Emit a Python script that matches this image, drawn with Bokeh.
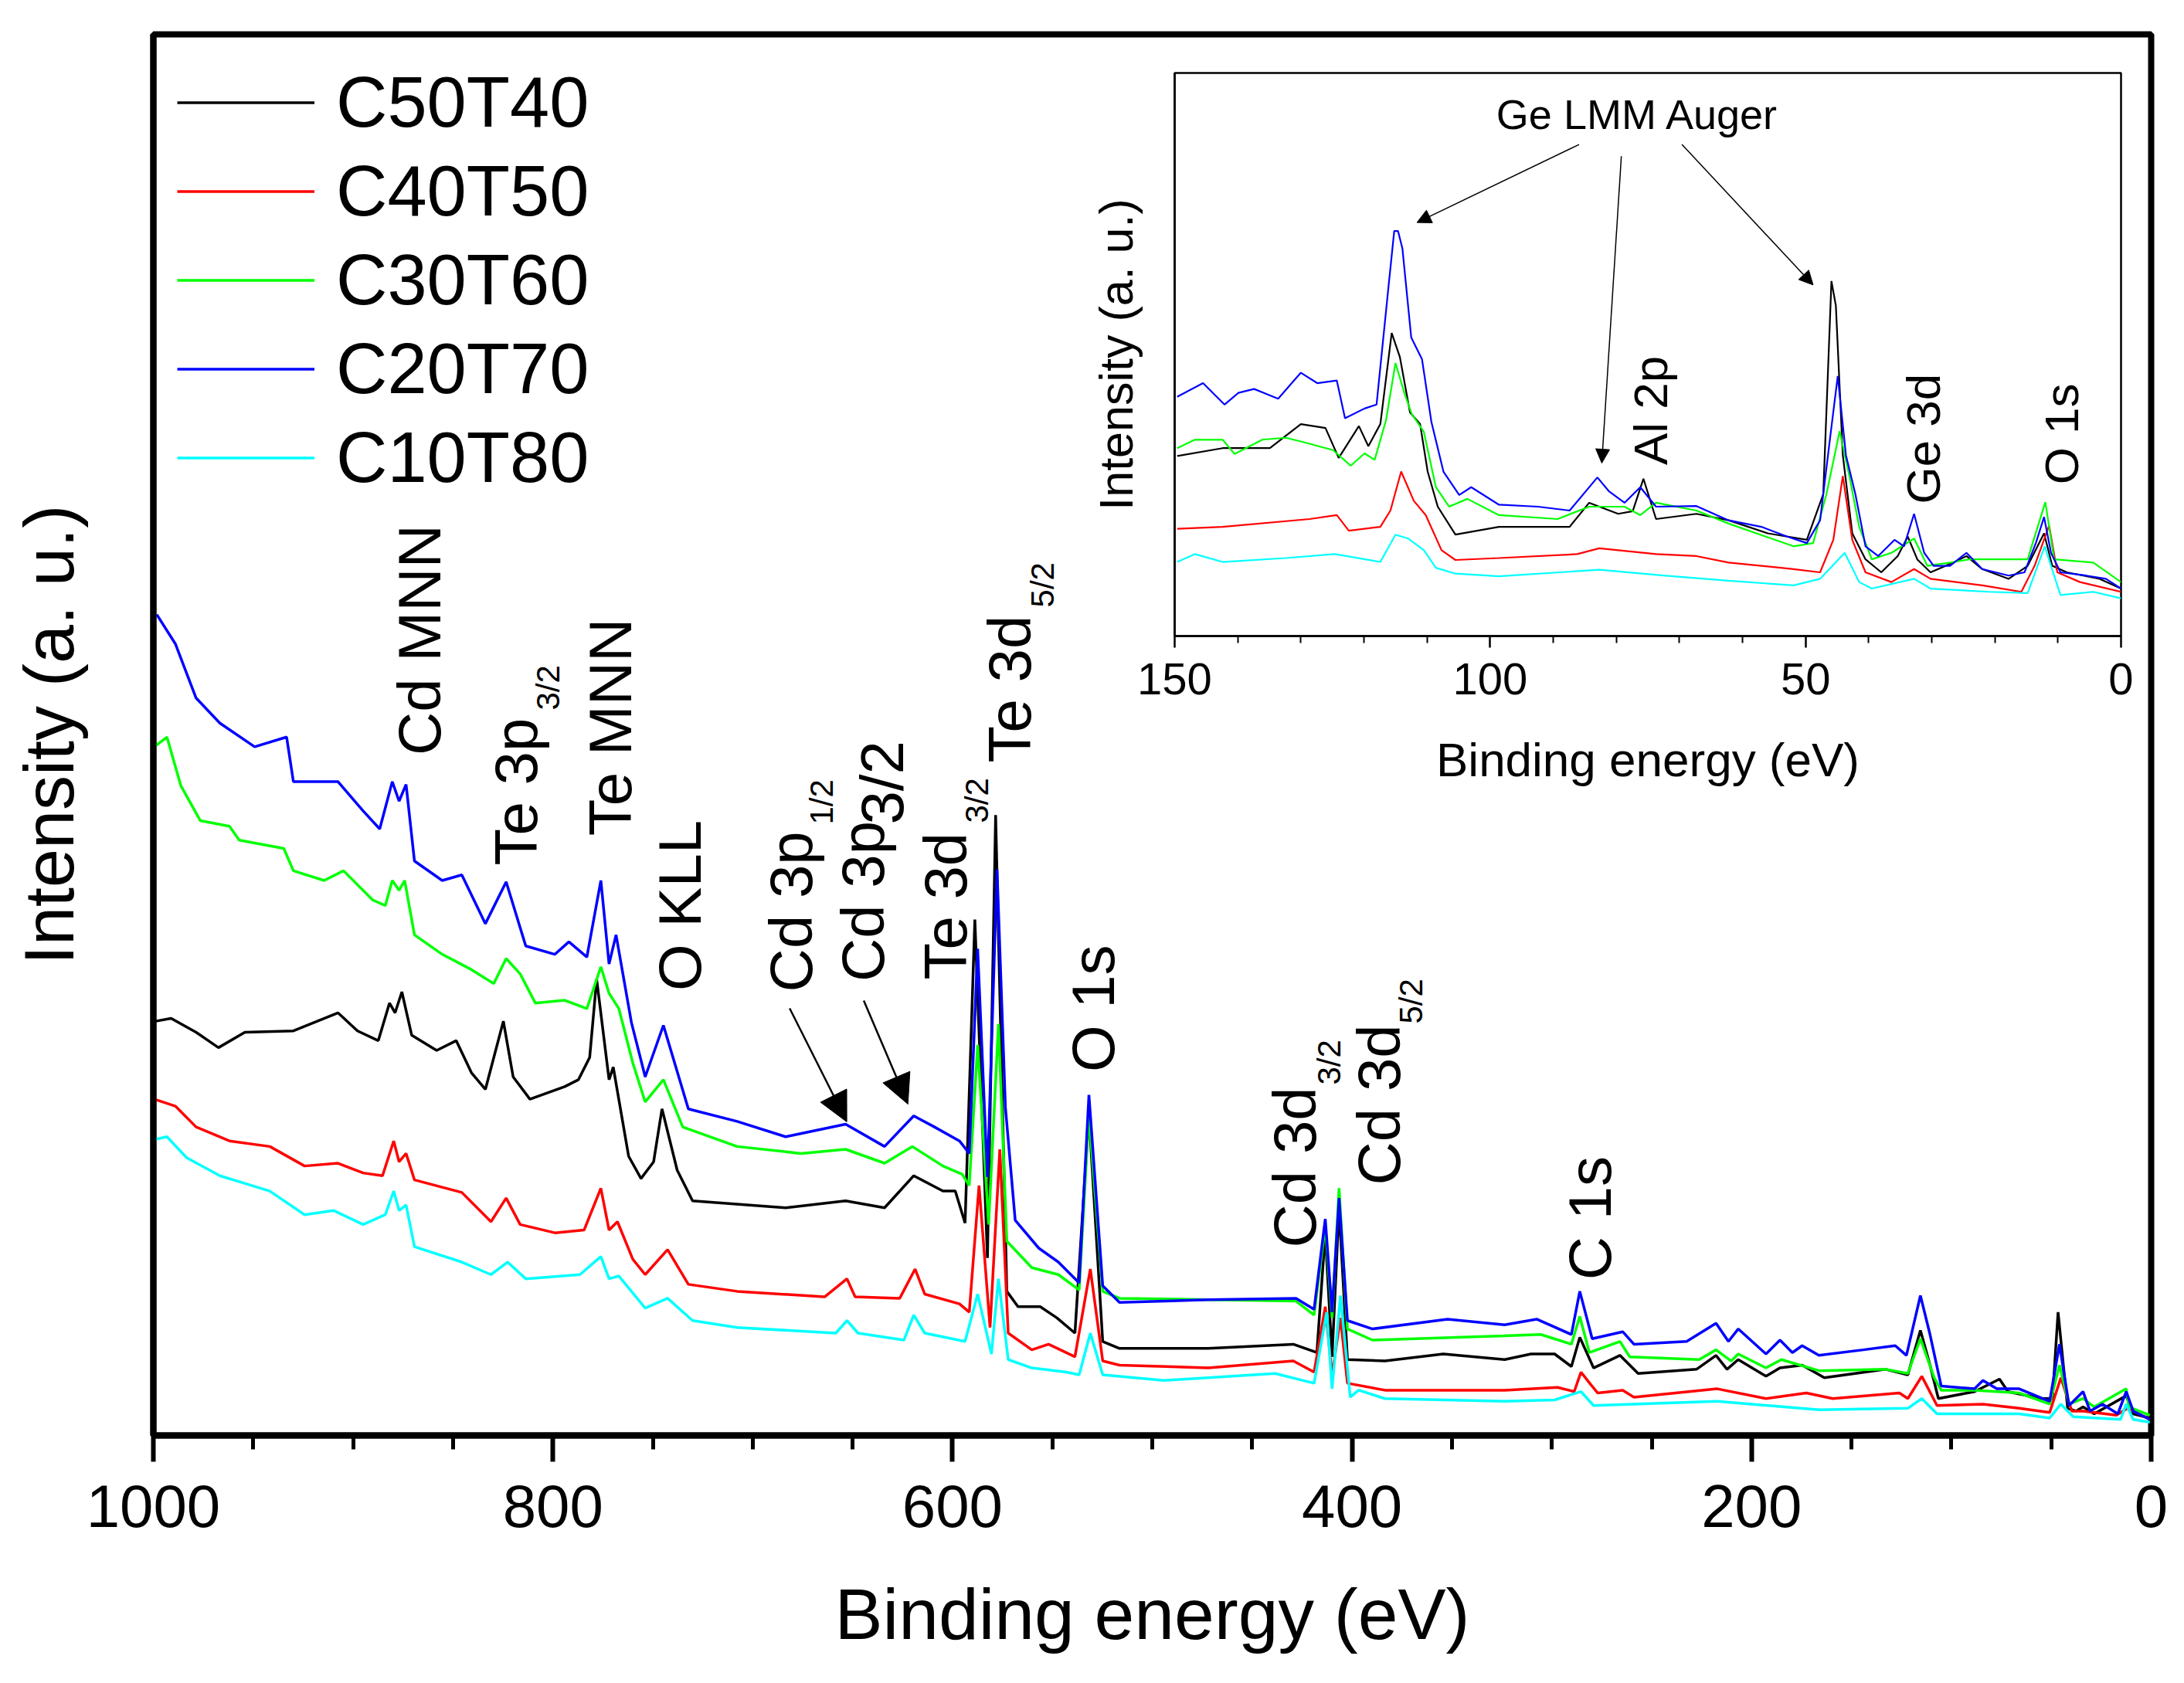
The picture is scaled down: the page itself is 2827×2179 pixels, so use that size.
import math
from bokeh.plotting import figure
from bokeh.models import (Range1d, FixedTicker, Legend, LegendItem, ColumnDataSource,
                          Arrow, NormalHead)
from bokeh.layouts import column
from bokeh.core.properties import value
from bokeh.embed import file_html
from bokeh.resources import INLINE

FONT = "Liberation Sans"

# ---------------- data: survey spectra (binding energy eV, intensity a.u.) ----------------
series_names = ["C50T40", "C40T50", "C30T60", "C20T70", "C10T80"]
series_colors = ["#000000", "#FF0000", "#00FF00", "#0000FF", "#00FFFF"]

main_c50t40 = [(998.8, 296), (991.1, 298), (978.6, 288), (967.4, 277), (954.2, 288), (929.9, 289),
               (907.6, 302), (897.8, 289), (887.4, 282), (881.8, 309), (879.0, 302), (875.6, 317),
               (870.7, 286), (858.2, 275), (848.4, 282), (840.8, 259), (833.8, 247), (824.8, 296),
               (819.9, 256), (811.5, 240), (794.1, 249), (787.2, 254), (781.6, 270), (778.1, 326),
               (771.9, 254), (769.8, 263), (762.1, 199), (755.9, 183), (749.6, 195), (745.4, 233),
               (737.8, 189), (730.1, 167), (683.5, 162), (653.5, 167), (634.0, 162), (619.4, 185),
               (604.8, 174), (598.6, 174), (593.7, 151), (588.8, 369), (582.5, 126), (578.4, 444),
               (572.8, 102), (567.2, 91), (556.1, 91), (547.8, 83), (538.7, 72), (531.7, 229),
               (524.8, 66), (516.4, 61), (471.9, 61), (429.4, 64), (417.6, 58), (413.4, 144),
               (410.0, 55), (406.5, 162), (402.3, 53), (383.5, 52), (354.3, 57), (323.6, 53),
               (310.4, 57), (298.6, 57), (290.2, 48), (286.0, 69), (279.1, 47), (265.9, 56),
               (256.8, 43), (227.6, 46), (217.8, 56), (212.3, 46), (206.7, 53), (192.8, 41),
               (185.8, 47), (174.7, 49), (163.6, 40), (132.9, 46), (121.8, 42), (115.5, 74),
               (110.7, 49), (106.5, 25), (88.4, 30), (75.9, 39), (71.7, 30), (55.0, 25), (49.4, 25),
               (46.6, 87), (41.8, 18), (37.6, 16), (34.1, 19), (28.5, 14), (12.5, 27), (9.0, 14),
               (0.7, 11)]

main_c40t50 = [(999.5, 240), (989.0, 235), (978.6, 220), (961.9, 210), (941.7, 206), (924.3, 192),
               (907.6, 194), (895.0, 187), (885.3, 185), (879.7, 210), (877.0, 195), (873.5, 201),
               (869.3, 182), (845.6, 173), (831.0, 152), (823.4, 169), (816.4, 150), (799.0, 144),
               (784.4, 146), (776.0, 176), (771.9, 146), (767.7, 152), (760.0, 125), (753.8, 114),
               (742.6, 132), (732.2, 107), (707.8, 102), (664.0, 98), (652.8, 111), (648.7, 98),
               (626.4, 97), (618.7, 118), (613.9, 100), (596.5, 93), (591.6, 87), (586.7, 178),
               (581.2, 76), (576.3, 204), (572.1, 72), (560.3, 60), (551.9, 64), (538.7, 55),
               (531.0, 118), (524.8, 52), (516.4, 49), (471.9, 47), (429.4, 52), (419.0, 44),
               (413.4, 91), (410.0, 42), (405.8, 83), (402.3, 36), (383.5, 31), (323.6, 31),
               (297.2, 33), (288.8, 30), (285.4, 44), (280.5, 35), (277.0, 29), (264.5, 31),
               (258.9, 26), (217.2, 32), (192.8, 25), (172.6, 29), (159.4, 25), (126.0, 29),
               (121.8, 25), (114.8, 41), (107.2, 20), (84.2, 21), (66.1, 18), (50.8, 15), (45.2, 40),
               (39.7, 16), (34.1, 16), (17.4, 13), (11.8, 18), (0.7, 10)]

main_c30t60 = [(999.5, 493), (993.2, 500), (986.2, 465), (976.5, 440), (961.9, 436), (957.0, 426),
               (934.7, 420), (929.9, 404), (914.5, 397), (904.8, 404), (890.2, 383), (883.9, 379),
               (880.4, 397), (877.0, 390), (874.2, 397), (869.3, 358), (855.4, 344), (840.8, 333),
               (829.6, 323), (823.4, 341), (816.4, 330), (808.8, 309), (794.1, 311), (783.0, 305),
               (776.0, 335), (771.9, 316), (767.0, 305), (760.0, 266), (753.8, 238), (744.7, 254),
               (735.0, 220), (707.8, 206), (675.8, 201), (653.5, 204), (634.0, 194), (620.1, 206),
               (604.8, 192), (595.1, 186), (591.6, 178), (587.4, 279), (581.9, 150), (577.0, 294),
               (572.8, 138), (560.3, 119), (547.0, 114), (536.6, 103), (531.7, 229), (524.8, 102),
               (516.4, 97), (471.9, 96), (428.0, 95), (419.0, 85), (413.4, 149), (410.0, 83),
               (406.5, 176), (402.3, 75), (389.8, 67), (323.6, 70), (305.5, 71), (290.2, 64),
               (286.0, 84), (281.2, 58), (265.9, 66), (261.0, 55), (226.2, 53), (217.8, 60),
               (210.2, 52), (206.7, 57), (192.8, 47), (185.1, 53), (166.3, 45), (132.9, 46),
               (121.8, 43), (115.5, 68), (108.6, 40), (105.1, 31), (88.4, 31), (66.1, 29), (50.8, 21),
               (45.9, 49), (41.1, 21), (34.1, 25), (28.5, 19), (12.5, 32), (11.1, 19), (0.7, 13)]

main_c20t70 = [(998.3, 588), (989.0, 567), (978.6, 528), (966.7, 510), (949.3, 493), (933.3, 500),
               (929.9, 468), (907.6, 468), (895.0, 447), (886.7, 434), (880.4, 468), (877.0, 454),
               (873.5, 466), (869.3, 411), (855.4, 397), (845.6, 401), (833.8, 366), (823.4, 396),
               (813.6, 350), (799.0, 344), (792.0, 353), (783.0, 342), (776.0, 397), (771.9, 337),
               (768.4, 358), (760.7, 295), (753.8, 256), (744.7, 293), (732.2, 233), (707.8, 224),
               (683.5, 213), (653.5, 222), (634.0, 206), (619.4, 228), (609.0, 220), (596.5, 210),
               (591.6, 201), (587.4, 348), (582.5, 184), (577.7, 405), (573.5, 234), (568.6, 153),
               (556.8, 133), (547.0, 123), (536.6, 108), (531.7, 243), (524.8, 106), (516.4, 94),
               (471.9, 96), (428.0, 97), (419.0, 89), (413.4, 154), (410.0, 87), (406.5, 169),
               (402.3, 81), (389.8, 75), (352.2, 82), (323.6, 78), (307.6, 82), (290.2, 71),
               (286.0, 102), (279.8, 68), (264.5, 73), (258.9, 64), (232.5, 66), (217.8, 79),
               (211.6, 66), (206.7, 75), (192.8, 57), (185.8, 67), (179.6, 58), (174.7, 63),
               (166.3, 56), (144.1, 60), (128.1, 63), (122.5, 56), (115.5, 99), (110.7, 71),
               (105.1, 34), (88.4, 32), (84.2, 38), (77.3, 32), (66.1, 32), (50.8, 23), (45.9, 64),
               (41.1, 20), (34.1, 30), (30.6, 16), (24.4, 21), (16.7, 14), (12.5, 30), (9.0, 16),
               (0.7, 10)]

main_c10t80 = [(999.5, 211), (993.2, 213), (983.4, 198), (966.7, 185), (941.7, 174), (924.3, 157),
               (909.7, 160), (895.0, 150), (883.9, 157), (879.7, 174), (877.0, 160), (873.5, 164),
               (869.3, 134), (845.6, 123), (831.0, 114), (822.7, 123), (813.6, 111), (786.5, 114),
               (776.0, 127), (771.9, 111), (767.0, 113), (753.8, 90), (742.6, 97), (730.1, 81),
               (707.8, 76), (658.4, 72), (652.8, 81), (647.3, 72), (624.3, 67), (619.4, 85),
               (613.9, 72), (593.7, 66), (587.4, 100), (580.5, 57), (577.0, 111), (572.1, 53),
               (560.3, 47), (542.9, 44), (536.6, 42), (531.0, 72), (524.8, 42), (494.2, 38),
               (438.5, 43), (419.0, 36), (412.7, 87), (410.0, 32), (405.8, 99), (400.9, 26),
               (396.7, 31), (383.5, 25), (323.6, 23), (298.6, 24), (285.4, 30), (279.1, 20),
               (217.2, 23), (166.3, 17), (121.8, 18), (114.8, 25), (107.2, 14), (66.1, 14),
               (50.8, 11), (45.2, 21), (39.0, 12), (15.3, 10), (12.5, 21), (9.0, 10), (0.7, 8)]

# ---------------- data: inset, low binding energy region ----------------
inset_c50t40 = [(149.6, 277), (142.4, 289), (134.9, 289), (130.0, 326), (126.1, 320), (124.0, 274),
                (120.8, 323), (119.3, 292), (117.4, 326), (115.6, 466), (114.3, 429), (112.7, 344),
                (111.1, 326), (109.9, 253), (108.3, 199), (105.5, 156), (98.6, 168), (87.4, 168),
                (84.3, 205), (79.7, 188), (77.4, 192), (75.7, 242), (73.7, 180), (67.3, 188),
                (62.2, 178), (56.0, 158), (49.8, 148), (47.2, 218), (45.9, 546), (45.2, 508),
                (44.1, 278), (42.6, 158), (40.5, 118), (38.0, 98), (35.4, 123), (33.8, 153),
                (32.3, 118), (30.2, 98), (26.6, 113), (24.5, 123), (22.0, 103), (17.8, 88),
                (14.8, 108), (12.2, 158), (10.9, 108), (8.6, 98), (3.4, 88), (0.0, 73)]

inset_c40t50 = [(149.6, 165), (142.4, 168), (128.6, 180), (124.3, 186), (122.4, 162), (117.4, 168),
                (115.8, 193), (114.1, 253), (112.1, 208), (110.2, 186), (107.7, 132), (105.5, 117),
                (98.6, 120), (86.2, 126), (82.7, 135), (73.7, 126), (67.3, 123), (62.2, 113),
                (51.9, 103), (47.7, 98), (45.6, 148), (44.1, 246), (42.6, 148), (40.5, 98),
                (36.4, 83), (32.8, 103), (30.2, 88), (22.0, 78), (15.8, 68), (13.7, 108),
                (11.4, 170), (10.1, 98), (6.5, 83), (0.0, 68)]

inset_c30t60 = [(149.6, 289), (146.8, 302), (142.4, 302), (140.5, 280), (136.1, 302), (132.4, 305),
                (129.9, 299), (124.9, 286), (122.1, 262), (119.9, 281), (118.3, 271), (116.5, 332),
                (115.0, 420), (113.6, 374), (112.4, 341), (110.5, 314), (108.6, 229), (106.5, 199),
                (103.6, 211), (98.6, 186), (89.3, 180), (84.3, 199), (78.7, 199), (76.2, 186),
                (73.7, 205), (67.3, 193), (62.2, 173), (51.9, 138), (48.8, 143), (46.7, 218),
                (44.6, 315), (43.1, 248), (41.5, 168), (39.5, 118), (36.4, 128), (32.8, 150),
                (30.7, 108), (27.1, 113), (24.0, 118), (20.9, 118), (14.8, 118), (12.0, 206),
                (10.6, 118), (4.4, 113), (0.0, 83)]

inset_c20t70 = [(149.6, 368), (145.5, 389), (142.1, 356), (139.9, 374), (137.4, 380), (133.6, 365),
                (130.0, 405), (127.4, 389), (124.3, 393), (123.0, 335), (119.9, 350), (118.0, 356),
                (116.1, 538), (115.2, 623), (114.6, 623), (113.9, 596), (112.5, 459), (110.8, 426),
                (109.3, 329), (107.4, 253), (104.9, 217), (103.0, 229), (98.6, 202), (92.4, 199),
                (87.4, 193), (83.0, 244), (81.2, 223), (78.7, 205), (76.2, 229), (73.7, 199),
                (67.3, 200), (62.2, 178), (57.0, 168), (52.9, 153), (49.8, 143), (47.7, 178),
                (46.2, 298), (44.9, 400), (43.6, 278), (42.1, 218), (40.5, 138), (38.5, 123),
                (35.9, 148), (34.4, 138), (32.8, 188), (31.2, 128), (29.7, 108), (27.1, 108),
                (24.5, 128), (22.0, 103), (17.8, 93), (15.3, 98), (13.5, 143), (12.2, 183),
                (11.1, 128), (9.6, 98), (5.5, 93), (2.4, 88), (0.0, 73)]

inset_c10t80 = [(149.6, 114), (146.8, 126), (142.4, 114), (132.4, 120), (124.6, 126), (117.4, 114),
                (115.0, 156), (113.0, 150), (110.5, 132), (108.6, 105), (105.5, 96), (98.6, 92),
                (82.7, 102), (72.5, 93), (62.2, 85), (51.9, 78), (47.7, 88), (43.8, 128),
                (41.5, 83), (39.5, 73), (32.8, 88), (30.2, 73), (20.9, 68), (14.8, 66),
                (12.1, 138), (9.6, 63), (4.4, 68), (0.0, 58)]

main_series = [main_c50t40, main_c40t50, main_c30t60, main_c20t70, main_c10t80]
inset_series = [inset_c50t40, inset_c40t50, inset_c30t60, inset_c20t70, inset_c10t80]

# tick values
main_major_ticks = [0, 200, 400, 600, 800, 1000]
main_minor_ticks = [50, 100, 150, 250, 300, 350, 450, 500, 550, 650, 700, 750, 850, 900, 950]
inset_major_ticks = [0, 50, 100, 150]
inset_minor_ticks = [10, 20, 30, 40, 60, 70, 80, 90, 110, 120, 130, 140]

# peak labels (main), rotated; anchor = centre line of the capitals, start of text
peak_text = ["Cd MNN", "Te 3p", "Te MNN", "O KLL", "Cd 3p", "Cd 3p", "3/2", "Te 3d", "Te 3d",
             "O 1s", "Cd 3d", "Cd 3d", "C 1s"]
peak_x = [866.6, 818.3, 771.1, 736.5, 680.7, 644.7, 635.1, 603.4, 571.3, 529.5, 428.7, 386.5, 281.0]
peak_y = [486.8, 407.8, 429.0, 317.7, 316.9, 324.3, 437.2, 325.7, 481.6, 259.4, 133.3, 178.2, 110.1]

sub_text = ["3/2", "1/2", "3/2", "5/2", "3/2", "5/2"]
sub_x = [802.3, 665.6, 587.6, 555.1, 411.3, 370.3]
sub_y = [519.3, 437.2, 438.3, 593.1, 250.3, 294.1]

main_arrow_x0 = [681.5, 644.4]
main_arrow_y0 = [305.2, 310.8]
main_arrow_x1 = [652.9, 622.3]
main_arrow_y1 = [223.7, 236.4]

inset_rot_text = ["Al 2p", "Ge 3d", "O 1s"]
inset_rot_x = [74.6, 31.4, 9.4]
inset_rot_y = [263, 203, 233]
auger_text = ["Ge LMM Auger"]
auger_x = [76.6]
auger_y = [803]
inset_arrow_x0 = [85.9, 79.2, 69.6]
inset_arrow_y0 = [756, 738, 756]
inset_arrow_x1 = [111.6, 82.3, 48.8]
inset_arrow_y1 = [636, 266, 540]

# ---------------- main figure ----------------
MAIN_W, MAIN_H = 2819, 2175
BL, BR = 198, 35          # shared left / right borders (layout aligns them)

p = figure(width=MAIN_W, height=MAIN_H, x_range=Range1d(1000, 0), y_range=Range1d(-1.5, 1004.6),
           output_backend="svg", toolbar_location=None,
           min_border_left=BL, min_border_right=BR, min_border_top=44, min_border_bottom=317)
p.grid.visible = False
p.outline_line_color = "black"
p.outline_line_width = 8
p.background_fill_color = "white"
p.border_fill_color = "white"

xa = p.xaxis[0]
xa.ticker = FixedTicker(ticks=main_major_ticks, minor_ticks=main_minor_ticks)
xa.axis_line_width = 8
xa.major_tick_line_width = 6
xa.minor_tick_line_width = 5
xa.major_tick_out = 34
xa.major_tick_in = 0
xa.minor_tick_out = 18
xa.minor_tick_in = 0
xa.major_label_standoff = 30
xa.major_label_text_font = FONT
xa.major_label_text_font_size = "78px"
xa.major_label_text_color = "black"
xa.axis_label = "Binding energy (eV)"
xa.axis_label_text_font = FONT
xa.axis_label_text_font_size = "93px"
xa.axis_label_text_font_style = "normal"
xa.axis_label_text_color = "black"
xa.axis_label_standoff = 58

ya = p.yaxis[0]
ya.ticker = FixedTicker(ticks=[])
ya.axis_line_width = 8
ya.major_tick_out = 0
ya.major_tick_in = 0
ya.minor_tick_out = 0
ya.minor_tick_in = 0
ya.major_label_standoff = 0
ya.major_label_text_font_size = "0px"
ya.axis_label = "Intensity (a. u.)"
ya.axis_label_text_font = FONT
ya.axis_label_text_font_size = "90px"
ya.axis_label_text_font_style = "normal"
ya.axis_label_text_color = "black"
ya.axis_label_standoff = 85

renderers = []
for pts, col in zip(main_series, series_colors):
    src = ColumnDataSource(dict(x=[a for a, b in pts], y=[b for a, b in pts]))
    r = p.line("x", "y", source=src, line_color=col, line_width=3.5)
    renderers.append(r)

legend = Legend(items=[LegendItem(label=n, renderers=[r]) for n, r in zip(series_names, renderers)],
                location="top_left", margin=0, padding=31, spacing=0,
                glyph_width=178, glyph_height=115, label_height=115, label_standoff=28,
                label_text_font=FONT, label_text_font_size="92px", label_text_color="black",
                border_line_alpha=0, background_fill_alpha=0)
p.add_layout(legend)

p.text(x="x", y="y", text="t", source=ColumnDataSource(dict(x=peak_x, y=peak_y, t=peak_text)),
       angle=math.pi / 2, text_font=value(FONT), text_font_size="78px", text_align="left",
       text_baseline="alphabetic", text_color="black")
p.text(x="x", y="y", text="t", source=ColumnDataSource(dict(x=sub_x, y=sub_y, t=sub_text)),
       angle=math.pi / 2, text_font=value(FONT), text_font_size="42px", text_align="left",
       text_baseline="alphabetic", text_color="black")

for x0, y0, x1, y1 in zip(main_arrow_x0, main_arrow_y0, main_arrow_x1, main_arrow_y1):
    p.add_layout(Arrow(end=NormalHead(size=38, fill_color="black", line_color="black", line_width=1),
                       x_start=x0, y_start=y0, x_end=x1, y_end=y1,
                       line_color="black", line_width=2.5))

# ---------------- inset figure ----------------
INSET_FRAME_W, INSET_FRAME_H = 1225, 729
IN_TOP, IN_BOTTOM = 24, 207
q = figure(width=BL + INSET_FRAME_W + BR, height=IN_TOP + INSET_FRAME_H + IN_BOTTOM,
           x_range=Range1d(150, 0), y_range=Range1d(0, 866),
           output_backend="svg", toolbar_location=None,
           min_border_left=BL, min_border_right=BR, min_border_top=IN_TOP, min_border_bottom=IN_BOTTOM)
q.grid.visible = False
q.outline_line_color = "black"
q.outline_line_width = 2.5
q.background_fill_color = "white"
q.border_fill_alpha = 0

qx = q.xaxis[0]
qx.ticker = FixedTicker(ticks=inset_major_ticks, minor_ticks=inset_minor_ticks)
qx.axis_line_width = 2.5
qx.major_tick_line_width = 2.5
qx.minor_tick_line_width = 2
qx.major_tick_out = 15
qx.major_tick_in = 0
qx.minor_tick_out = 9
qx.minor_tick_in = 0
qx.major_label_standoff = 20
qx.major_label_text_font = FONT
qx.major_label_text_font_size = "58px"
qx.major_label_text_color = "black"
qx.axis_label = "Binding energy (eV)"
qx.axis_label_text_font = FONT
qx.axis_label_text_font_size = "62px"
qx.axis_label_text_font_style = "normal"
qx.axis_label_text_color = "black"
qx.axis_label_standoff = 47

qy = q.yaxis[0]
qy.ticker = FixedTicker(ticks=[])
qy.axis_line_width = 2.5
qy.major_tick_out = 0
qy.major_tick_in = 0
qy.minor_tick_out = 0
qy.minor_tick_in = 0
qy.major_label_standoff = 0
qy.major_label_text_font_size = "0px"
qy.axis_label = "Intensity (a. u.)"
qy.axis_label_text_font = FONT
qy.axis_label_text_font_size = "61px"
qy.axis_label_text_font_style = "normal"
qy.axis_label_text_color = "black"
qy.axis_label_standoff = 42

for pts, col in zip(inset_series, series_colors):
    src = ColumnDataSource(dict(x=[a for a, b in pts], y=[b for a, b in pts]))
    q.line("x", "y", source=src, line_color=col, line_width=2.2)

q.text(x="x", y="y", text="t",
       source=ColumnDataSource(dict(x=inset_rot_x, y=inset_rot_y, t=inset_rot_text)),
       angle=math.pi / 2, text_font=value(FONT), text_font_size="62px", text_align="left",
       text_baseline="alphabetic", text_color="black")
q.text(x="x", y="y", text="t", source=ColumnDataSource(dict(x=auger_x, y=auger_y, t=auger_text)),
       text_font=value(FONT), text_font_size="54px", text_align="center",
       text_baseline="alphabetic", text_color="black")

for x0, y0, x1, y1 in zip(inset_arrow_x0, inset_arrow_y0, inset_arrow_x1, inset_arrow_y1):
    q.add_layout(Arrow(end=NormalHead(size=18, fill_color="black", line_color="black", line_width=1),
                       x_start=x0, y_start=y0, x_end=x1, y_end=y1,
                       line_color="black", line_width=1.5))

# overlay the inset on the main plot (inset frame at x=1520, y=94 on the page)
q.margin = (94 - IN_TOP - MAIN_H, 0, 0, 1520 - BL)
layout = column(p, q, spacing=0)

open("out.html", "w").write(file_html(layout, INLINE))
